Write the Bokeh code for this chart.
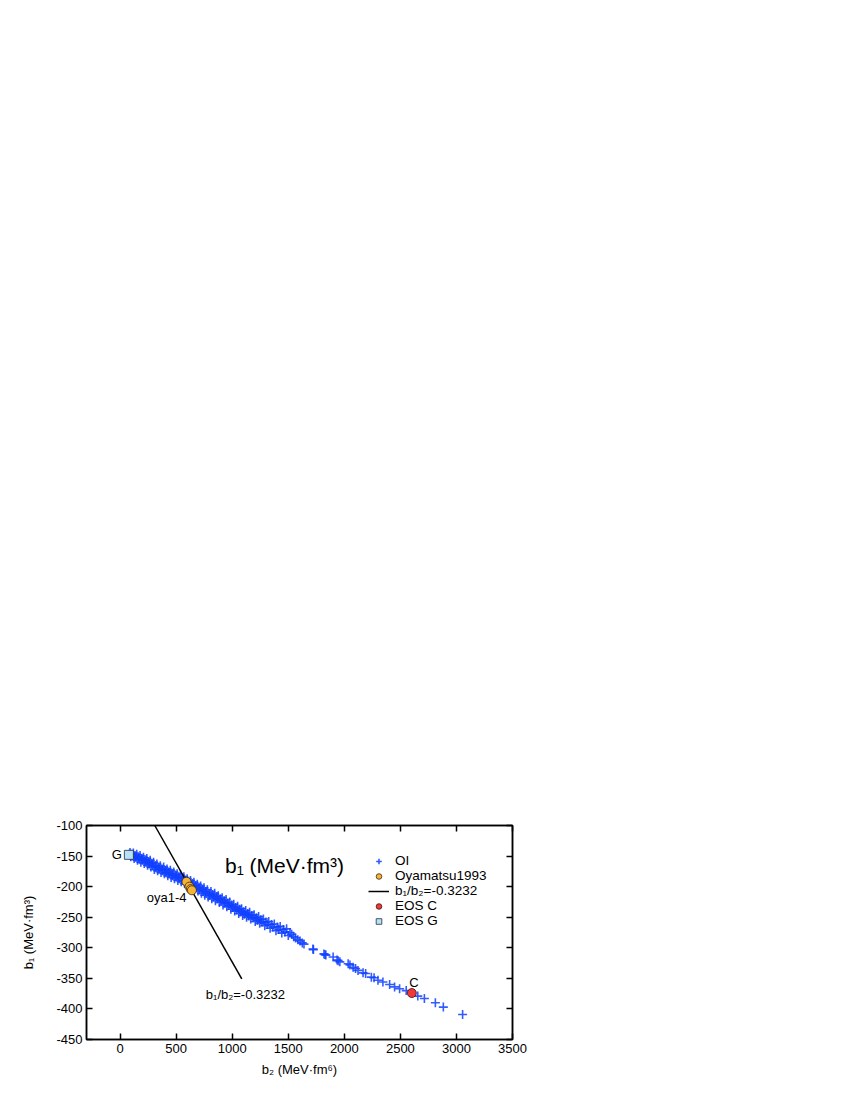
from bokeh.plotting import figure
from bokeh.models import (Range1d, LinearAxis, FixedTicker, Legend, LegendItem,
                          Label, CustomJSTickFormatter)
from bokeh.embed import file_html
from bokeh.resources import INLINE

FONT = "Liberation Sans"

# ---------------- data ----------------
oi_b2 = [80, 88, 95, 102, 110, 118, 125, 133, 140, 148, 155, 163, 170, 178, 185, 193,
         200, 208, 215, 223, 230, 238, 245, 253, 260, 268, 275, 283, 290, 298,
         305, 313, 320, 328, 335, 343, 350, 358, 365, 373, 380, 388, 395, 403,
         410, 418, 425, 433, 440, 448, 455, 463, 470, 478, 485, 493, 500, 508,
         515, 523, 530, 538, 545, 553, 560, 568, 575, 583, 590, 598, 605, 613,
         620, 628, 635, 643, 650, 658, 665, 673, 680, 688, 695, 703, 710, 718,
         725, 733, 740, 748, 755, 763, 770, 778, 785, 793, 800, 810, 818, 825,
         835, 843, 850, 860, 868, 875, 885, 893, 900, 910, 918, 928, 935, 945,
         952, 960, 970, 978, 988, 995, 1005, 1013, 1022, 1030, 1040, 1048, 1058,
         1065, 1075, 1083, 1093, 1100, 1110, 1120, 1128, 1138, 1148, 1155, 1165,
         1175, 1185, 1195, 1205, 1215, 1225, 1235, 1245, 1255, 1265, 1278, 1290,
         1300, 1312, 1325, 1338, 1350, 1362, 1375, 1390, 1402, 1415, 1428, 1442,
         1455, 1470, 1485, 1500, 1515, 1530, 1548, 1565, 1585, 1605, 1625,
         1640, 1720, 1724, 1818, 1827, 1835, 1900, 1935, 1945, 1960, 2034, 2050,
         2078, 2100, 2122, 2167, 2190, 2241, 2265, 2300, 2344, 2404, 2448, 2493,
         2552, 2655, 2714, 2812, 2883, 3055]
oi_b1 = [-147, -144, -151, -147, -150, -145, -154, -149, -152, -147, -157, -151, -155, -149, -160, -154,
         -157, -152, -162, -156, -160, -154, -165, -159, -163, -157, -168, -162, -166, -160,
         -172, -166, -169, -163, -174, -168, -171, -166, -177, -171, -174, -168, -179, -173,
         -177, -171, -182, -176, -179, -173, -185, -179, -182, -176, -187, -181, -184, -179,
         -190, -184, -187, -181, -192, -186, -190, -184, -195, -189, -192, -187, -198, -192,
         -196, -190, -201, -195, -199, -193, -204, -198, -202, -196, -207, -201, -205, -199,
         -211, -204, -208, -202, -214, -208, -211, -205, -217, -211, -214, -208, -220, -213,
         -217, -211, -223, -216, -220, -215, -226, -220, -224, -218, -230, -223, -227, -221,
         -233, -227, -231, -225, -237, -230, -234, -229, -240, -234, -238, -232, -244,
         -237, -241, -236, -247, -241, -245, -239, -250, -244, -248, -242, -253,
         -247, -251, -246, -257, -251, -255, -249, -260, -254, -258, -253, -264,
         -258, -262, -257, -268, -262, -266, -261, -272, -266, -270, -265, -276,
         -270, -274, -269, -280, -275, -278, -282, -284, -287, -289, -292,
         -294, -302, -303, -310, -311, -312, -315, -320, -321, -323, -326, -328,
         -332, -334, -337, -341, -342, -348, -349, -353, -356, -360, -364, -367,
         -370, -379, -383, -390, -397, -409]

oya_b2 = [592, 618, 630, 640]
oya_b1 = [-192, -200, -204, -206]

ratio_b2 = [309, 1085]
ratio_b1 = [-100, -350.7]

eosc_b2 = [2602]
eosc_b1 = [-374]

eosg_b2 = [78]
eosg_b1 = [-148]

x_ticks = [0, 500, 1000, 1500, 2000, 2500, 3000, 3500]
y_ticks = [-450, -400, -350, -300, -250, -200, -150, -100]

# ---------------- figure ----------------
p = figure(frame_width=426, frame_height=214,
           x_range=Range1d(-300, 3500), y_range=Range1d(-450, -100),
           output_backend="svg", toolbar_location=None,
           min_border_left=86, min_border_right=330,
           min_border_top=825, min_border_bottom=50,
           x_axis_label="b\u2082 (MeV\u00b7fm\u2076)",
           y_axis_label="b\u2081 (MeV\u00b7fm\u00b3)")
p.grid.visible = False
p.outline_line_color = "black"
p.outline_line_width = 1.5
p.background_fill_color = "white"
p.border_fill_color = "white"

num_fmt = CustomJSTickFormatter(code="return tick.toFixed(0)")


def style_axis(ax):
    ax.axis_line_color = "black"
    ax.axis_line_width = 1.5
    ax.major_tick_in = 6
    ax.major_tick_out = 0
    ax.minor_tick_in = 0
    ax.minor_tick_out = 0
    ax.major_tick_line_width = 1.5
    ax.major_tick_line_color = "black"
    ax.major_label_text_font = FONT
    ax.major_label_text_font_size = "13px"
    ax.major_label_text_color = "black"
    ax.major_label_standoff = 4
    ax.axis_label_text_font = FONT
    ax.axis_label_text_font_size = "13px"
    ax.axis_label_text_font_style = "normal"
    ax.axis_label_text_color = "black"


p.xaxis.ticker = FixedTicker(ticks=x_ticks)
p.yaxis.ticker = FixedTicker(ticks=y_ticks)
p.xaxis.formatter = num_fmt
p.yaxis.formatter = num_fmt
for ax in p.xaxis + p.yaxis:
    style_axis(ax)
p.xaxis.axis_label_standoff = 6
p.yaxis.axis_label_standoff = 17

blank = CustomJSTickFormatter(code="return ''")
top_ax = LinearAxis(ticker=FixedTicker(ticks=x_ticks), formatter=blank)
right_ax = LinearAxis(ticker=FixedTicker(ticks=y_ticks), formatter=blank)
style_axis(top_ax)
style_axis(right_ax)
top_ax.major_label_text_font_size = "0px"
right_ax.major_label_text_font_size = "0px"
p.add_layout(top_ax, "above")
p.add_layout(right_ax, "right")

# ---------------- glyphs ----------------
r_oi = p.scatter(oi_b2, oi_b1, marker="cross", size=9, line_color="#0f3fff",
                 line_width=1.6, line_alpha=0.85)
r_line = p.line(ratio_b2, ratio_b1, line_color="black", line_width=1.5)
r_oya = p.scatter(oya_b2, oya_b1, marker="circle", size=9, fill_color="#f7b334",
                  line_color="#3a2a10", line_width=0.8)
r_c = p.scatter(eosc_b2, eosc_b1, marker="circle", size=9, fill_color="#f03a3a",
                line_color="#3a1010", line_width=0.8)
r_g = p.scatter(eosg_b2, eosg_b1, marker="square", size=9, fill_color="#b8e2f5",
                line_color="#203040", line_width=0.8)

# ---------------- annotations ----------------
txt = dict(text_font=FONT, text_color="black")
p.add_layout(Label(x=935, y=-165.7, text="b\u2081 (MeV\u00b7fm\u00b3)",
                   text_font_size="21px", text_align="left",
                   text_baseline="alphabetic", **txt))
p.add_layout(Label(x=eosg_b2[0], y=eosg_b1[0], x_offset=-7, y_offset=0, text="G",
                   text_font_size="13px", text_align="right",
                   text_baseline="middle", **txt))
p.add_layout(Label(x=eosc_b2[0], y=eosc_b1[0], x_offset=2, y_offset=11, text="C",
                   text_font_size="13px", text_align="center",
                   text_baseline="middle", **txt))
p.add_layout(Label(x=oya_b2[0], y=oya_b1[0], x_offset=0, y_offset=-16, text="oya1-4",
                   text_font_size="13px", text_align="right",
                   text_baseline="middle", **txt))
p.add_layout(Label(x=ratio_b2[1], y=ratio_b1[1], x_offset=-36, y_offset=-16,
                   text="b\u2081/b\u2082=-0.3232",
                   text_font_size="13px", text_align="left",
                   text_baseline="middle", **txt))

legend = Legend(items=[
    LegendItem(label="OI", renderers=[r_oi]),
    LegendItem(label="Oyamatsu1993", renderers=[r_oya]),
    LegendItem(label="b\u2081/b\u2082=-0.3232", renderers=[r_line]),
    LegendItem(label="EOS C", renderers=[r_c]),
    LegendItem(label="EOS G", renderers=[r_g]),
], location=(282, 111))
legend.background_fill_alpha = 0
legend.border_line_alpha = 0
legend.padding = 0
legend.margin = 0
legend.spacing = 0
legend.glyph_width = 21
legend.glyph_height = 14
legend.label_height = 14
legend.label_standoff = 6
legend.label_text_font = FONT
legend.label_text_font_size = "13.5px"
legend.label_text_color = "black"
p.add_layout(legend)

with open("out.html", "w") as f:
    f.write(file_html(p, INLINE))
